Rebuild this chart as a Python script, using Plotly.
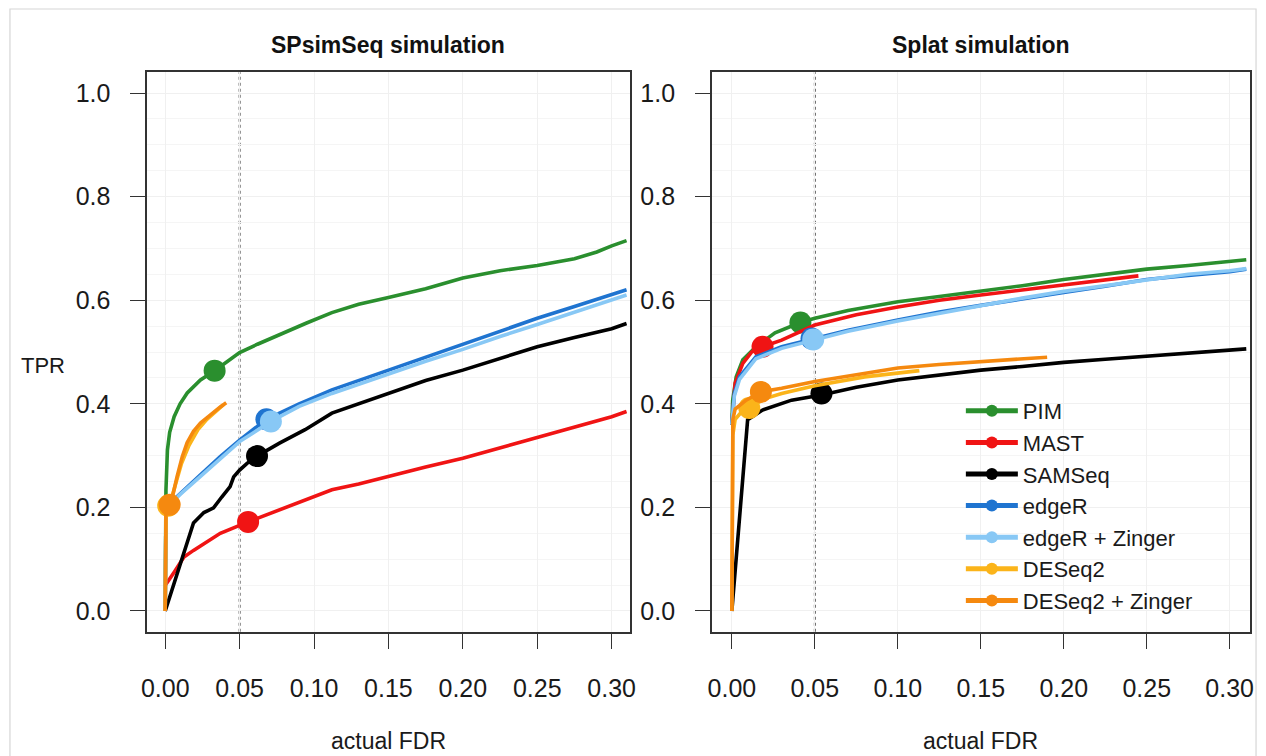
import plotly.graph_objects as go

W, H = 1266, 756

METHODS = ["PIM", "MAST", "SAMSeq", "edgeR", "edgeR + Zinger", "DESeq2", "DESeq2 + Zinger"]
COLORS = ["#2a8f2e", "#f01414", "#000000", "#1f74d0", "#88c8f5", "#fbb41a", "#f5890f"]

NOMINAL_FDR = 0.05
X_TICKS = [0.00, 0.05, 0.10, 0.15, 0.20, 0.25, 0.30]
Y_TICKS = [0.0, 0.2, 0.4, 0.6, 0.8, 1.0]
PANEL_TITLES = ["SPsimSeq simulation", "Splat simulation"]

# ---------------- SPsimSeq simulation (left panel) ----------------
sp_pim_x = [0, 0.0005, 0.0015, 0.003, 0.006, 0.010, 0.0148, 0.0237, 0.0332, 0.042, 0.05, 0.062, 0.0768, 0.095, 0.112, 0.13, 0.15, 0.175, 0.20, 0.225, 0.25, 0.275, 0.29, 0.30, 0.31]
sp_pim_y = [0.0, 0.233, 0.311, 0.345, 0.375, 0.40, 0.421, 0.446, 0.464, 0.483, 0.499, 0.515, 0.534, 0.556, 0.576, 0.592, 0.605, 0.622, 0.643, 0.657, 0.667, 0.680, 0.693, 0.705, 0.715]

sp_mast_x = [0, 0.0009, 0.006, 0.0126, 0.019, 0.028, 0.037, 0.0557, 0.077, 0.095, 0.112, 0.13, 0.15, 0.175, 0.20, 0.225, 0.25, 0.275, 0.30, 0.31]
sp_mast_y = [0.05, 0.053, 0.075, 0.104, 0.117, 0.133, 0.15, 0.172, 0.195, 0.215, 0.234, 0.245, 0.26, 0.278, 0.295, 0.315, 0.335, 0.355, 0.375, 0.385]

sp_sam_x = [0, 0.008, 0.014, 0.019, 0.026, 0.0325, 0.038, 0.0436, 0.046, 0.05, 0.055, 0.0617, 0.0768, 0.094, 0.112, 0.13, 0.15, 0.175, 0.20, 0.225, 0.25, 0.275, 0.30, 0.31]
sp_sam_y = [0, 0.073, 0.125, 0.17, 0.19, 0.199, 0.22, 0.24, 0.259, 0.272, 0.285, 0.299, 0.324, 0.35, 0.382, 0.40, 0.42, 0.445, 0.465, 0.487, 0.51, 0.528, 0.545, 0.555]

sp_edger_x = [0, 0.0005, 0.004, 0.0104, 0.0237, 0.037, 0.05, 0.068, 0.09, 0.112, 0.13, 0.15, 0.175, 0.20, 0.225, 0.25, 0.275, 0.30, 0.31]
sp_edger_y = [0.0, 0.19, 0.21, 0.228, 0.263, 0.298, 0.33, 0.37, 0.40, 0.427, 0.445, 0.465, 0.49, 0.515, 0.54, 0.565, 0.588, 0.61, 0.62]

sp_edgerz_x = [0, 0.0005, 0.004, 0.0104, 0.0237, 0.037, 0.05, 0.071, 0.09, 0.112, 0.13, 0.15, 0.175, 0.20, 0.225, 0.25, 0.275, 0.30, 0.31]
sp_edgerz_y = [0.0, 0.19, 0.208, 0.226, 0.26, 0.295, 0.327, 0.366, 0.395, 0.42, 0.438, 0.457, 0.482, 0.505, 0.53, 0.553, 0.577, 0.60, 0.61]

sp_deseq_x = [0, 0.0005, 0.002, 0.004, 0.007, 0.011, 0.016, 0.022, 0.028, 0.034, 0.039]
sp_deseq_y = [0, 0.19, 0.203, 0.215, 0.245, 0.285, 0.32, 0.35, 0.37, 0.386, 0.398]

sp_deseqz_x = [0, 0.0005, 0.003, 0.005, 0.008, 0.0115, 0.0147, 0.019, 0.0237, 0.0285, 0.0325, 0.037, 0.041]
sp_deseqz_y = [0, 0.19, 0.205, 0.222, 0.26, 0.298, 0.325, 0.347, 0.363, 0.375, 0.385, 0.394, 0.402]

# operating points (nominal FDR 5%)
sp_point_x = [0.0332, 0.0557, 0.0617, 0.068, 0.071, 0.002, 0.003]
sp_point_y = [0.464, 0.172, 0.299, 0.370, 0.366, 0.203, 0.205]

# ---------------- Splat simulation (right panel) ----------------
sl_pim_x = [0, 0.0005, 0.0026, 0.0066, 0.0145, 0.026, 0.0413, 0.05, 0.07, 0.10, 0.125, 0.15, 0.175, 0.20, 0.225, 0.25, 0.275, 0.30, 0.31]
sl_pim_y = [0.36, 0.407, 0.452, 0.485, 0.51, 0.537, 0.557, 0.565, 0.58, 0.597, 0.607, 0.617, 0.628, 0.64, 0.65, 0.66, 0.667, 0.674, 0.678]

sl_mast_x = [0, 0.002, 0.0066, 0.012, 0.0185, 0.03, 0.05, 0.075, 0.10, 0.125, 0.15, 0.175, 0.20, 0.225, 0.245]
sl_mast_y = [0.36, 0.44, 0.478, 0.50, 0.51, 0.523, 0.552, 0.572, 0.587, 0.60, 0.61, 0.62, 0.63, 0.64, 0.647]

sl_sam_x = [0, 0.0095, 0.0185, 0.036, 0.054, 0.075, 0.10, 0.125, 0.15, 0.175, 0.20, 0.225, 0.25, 0.275, 0.30, 0.31]
sl_sam_y = [0, 0.369, 0.388, 0.407, 0.417, 0.432, 0.446, 0.456, 0.465, 0.472, 0.48, 0.486, 0.492, 0.497, 0.503, 0.506]

sl_edger_x = [0, 0.0015, 0.0046, 0.0145, 0.03, 0.048, 0.07, 0.10, 0.125, 0.15, 0.175, 0.20, 0.225, 0.25, 0.275, 0.30, 0.31]
sl_edger_y = [0.36, 0.42, 0.452, 0.491, 0.51, 0.525, 0.542, 0.562, 0.577, 0.59, 0.603, 0.615, 0.627, 0.64, 0.648, 0.655, 0.66]

sl_edgerz_x = [0, 0.0015, 0.0046, 0.0145, 0.03, 0.049, 0.07, 0.10, 0.125, 0.15, 0.175, 0.20, 0.225, 0.25, 0.275, 0.30, 0.31]
sl_edgerz_y = [0.36, 0.415, 0.447, 0.487, 0.507, 0.523, 0.54, 0.56, 0.575, 0.59, 0.604, 0.617, 0.628, 0.64, 0.65, 0.657, 0.661]

sl_deseq_x = [0, 0.0006, 0.002, 0.006, 0.0105, 0.02, 0.03, 0.05, 0.08, 0.10, 0.113]
sl_deseq_y = [0, 0.34, 0.37, 0.385, 0.392, 0.41, 0.42, 0.435, 0.452, 0.46, 0.464]

sl_deseqz_x = [0, 0.0006, 0.002, 0.0086, 0.0175, 0.03, 0.05, 0.075, 0.10, 0.125, 0.15, 0.17, 0.19]
sl_deseqz_y = [0, 0.37, 0.39, 0.407, 0.423, 0.43, 0.443, 0.456, 0.469, 0.476, 0.482, 0.486, 0.49]

sl_point_x = [0.0413, 0.0185, 0.054, 0.048, 0.049, 0.0105, 0.0175]
sl_point_y = [0.557, 0.510, 0.420, 0.526, 0.524, 0.392, 0.423]

panels = [
    dict(curves=[(sp_pim_x, sp_pim_y), (sp_mast_x, sp_mast_y), (sp_sam_x, sp_sam_y),
                 (sp_edger_x, sp_edger_y), (sp_edgerz_x, sp_edgerz_y),
                 (sp_deseq_x, sp_deseq_y), (sp_deseqz_x, sp_deseqz_y)],
         px=sp_point_x, py=sp_point_y),
    dict(curves=[(sl_pim_x, sl_pim_y), (sl_mast_x, sl_mast_y), (sl_sam_x, sl_sam_y),
                 (sl_edger_x, sl_edger_y), (sl_edgerz_x, sl_edgerz_y),
                 (sl_deseq_x, sl_deseq_y), (sl_deseqz_x, sl_deseqz_y)],
         px=sl_point_x, py=sl_point_y),
]

fig = go.Figure()
LW = 3.6
MS = 22

for p, panel in enumerate(panels):
    xa = "x" if p == 0 else "x2"
    ya = "y" if p == 0 else "y2"
    for i, (cx, cy) in enumerate(panel["curves"]):
        fig.add_trace(go.Scatter(x=cx, y=cy, mode="lines", xaxis=xa, yaxis=ya,
                                 line=dict(color=COLORS[i], width=LW),
                                 showlegend=False, hoverinfo="skip"))
        fig.add_trace(go.Scatter(x=[panel["px"][i]], y=[panel["py"][i]], mode="markers",
                                 xaxis=xa, yaxis=ya,
                                 marker=dict(color=COLORS[i], size=MS, line=dict(width=0)),
                                 showlegend=False, name=METHODS[i]))

# legend entries
for i, m in enumerate(METHODS):
    fig.add_trace(go.Scatter(x=[None], y=[None], mode="lines+markers", name=m,
                             xaxis="x2", yaxis="y2",
                             line=dict(color=COLORS[i], width=3),
                             marker=dict(color=COLORS[i], size=12)))

FONT = "Liberation Sans, Arial, sans-serif"
AXC = "#333333"

def px2fx(v):
    return v / W

def py2fy(v):
    return 1 - v / H

ydom = [py2fy(631.7), py2fy(72.3)]
xdoms = [[px2fx(142.7), px2fx(629.5)], [px2fx(712.7), px2fx(1255.5)]]

common_x = dict(range=[-0.012, 0.312], tickvals=X_TICKS, ticktext=[f"{v:.2f}" for v in X_TICKS],
                showline=True, mirror=True, linecolor=AXC, linewidth=1.7,
                ticks="outside", ticklen=15, tickwidth=1.4, tickcolor=AXC,
                zeroline=False, showgrid=True, gridcolor="#f0f0f0", gridwidth=1,
                tickfont=dict(family=FONT, size=25, color="#1a1a1a"),
                ticklabelstandoff=18, fixedrange=True)
common_y = dict(range=[-0.04, 1.04], tickvals=Y_TICKS, ticktext=[f"{v:.1f}" for v in Y_TICKS],
                showline=True, mirror=True, linecolor=AXC, linewidth=1.7,
                ticks="outside", ticklen=15, tickwidth=1.4, tickcolor=AXC,
                zeroline=False, showgrid=True, gridcolor="#f0f0f0", gridwidth=1,
                minor=dict(dtick=0.05, tick0=0, showgrid=True, gridcolor="#f5f5f5", ticks=""),
                tickfont=dict(family=FONT, size=25, color="#1a1a1a"),
                ticklabelstandoff=15, domain=ydom, fixedrange=True)

fig.update_layout(
    width=W, height=H, margin=dict(l=0, r=0, t=0, b=0),
    paper_bgcolor="white", plot_bgcolor="white",
    xaxis=dict(common_x, domain=xdoms[0], anchor="y"),
    yaxis=dict(common_y, anchor="x"),
    xaxis2=dict(common_x, domain=xdoms[1], anchor="y2"),
    yaxis2=dict(common_y, anchor="x2"),
    legend=dict(x=px2fx(964), y=py2fy(390), xanchor="left", yanchor="top",
                bgcolor="rgba(0,0,0,0)", font=dict(family=FONT, size=22, color="#1a1a1a"),
                itemwidth=52, tracegroupgap=0, itemsizing="constant"),
    showlegend=True,
)

shapes = []
for p, (xa, ya) in enumerate([("x", "y"), ("x2", "y2")]):
    shapes.append(dict(type="line", xref=xa, yref=f"{ya} domain", x0=NOMINAL_FDR, x1=NOMINAL_FDR,
                       y0=0, y1=1, line=dict(color="#555555", width=2, dash="dot"), layer="below"))
# outer frame of the figure
shapes.append(dict(type="rect", xref="paper", yref="paper", x0=px2fx(4), x1=px2fx(1262),
                   y0=-0.02, y1=py2fy(9), line=dict(color="#d6d6d6", width=1.2)))
fig.update_layout(shapes=shapes)

ann = []
for p, t in enumerate(PANEL_TITLES):
    cx = (xdoms[p][0] + xdoms[p][1]) / 2
    ann.append(dict(text=f"<b>{t}</b>", x=cx, y=py2fy(45), xref="paper", yref="paper",
                    showarrow=False, xanchor="center", yanchor="middle",
                    font=dict(family=FONT, size=23, color="#111111")))
    ann.append(dict(text="actual FDR", x=cx, y=py2fy(741), xref="paper", yref="paper",
                    showarrow=False, xanchor="center", yanchor="middle",
                    font=dict(family=FONT, size=23, color="#1a1a1a")))
ann.append(dict(text="TPR", x=px2fx(37), y=py2fy(365), xref="paper", yref="paper",
                showarrow=False, xanchor="center", yanchor="middle",
                font=dict(family=FONT, size=22, color="#1a1a1a")))
fig.update_layout(annotations=ann)

fig.write_html("out.html")
